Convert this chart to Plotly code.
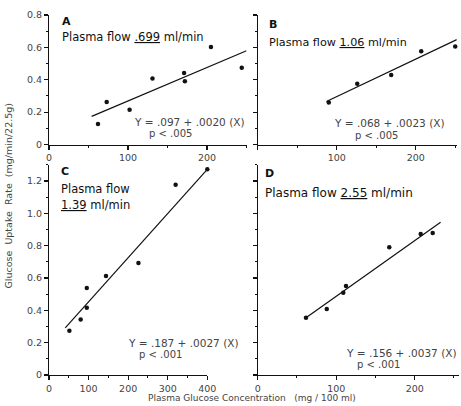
import plotly.graph_objects as go

# ---- data ----
A_x = [62, 73, 102, 131, 171, 172, 205, 244]
A_y = [0.127, 0.263, 0.215, 0.408, 0.441, 0.39, 0.603, 0.474]
A_line_x = [54, 250]
A_line_y = [0.174, 0.579]

B_x = [90, 126, 169, 207, 250]
B_y = [0.26, 0.375, 0.43, 0.576, 0.605]
B_line_x = [87, 252]
B_line_y = [0.266, 0.648]

C_x = [51.5, 80, 95.5, 95.5, 144, 226, 320, 400]
C_y = [0.274, 0.344, 0.538, 0.416, 0.612, 0.693, 1.177, 1.272]
C_line_x = [41, 400]
C_line_y = [0.292, 1.272]

D_x = [61.5, 88, 109, 112.5, 167.6, 207.6, 222.9]
D_y = [0.354, 0.408, 0.509, 0.55, 0.79, 0.872, 0.878]
D_line_x = [61.5, 233]
D_line_y = [0.354, 0.944]

top_yticks = [0, 0.2, 0.4, 0.6, 0.8]
top_ylabels = ["0", "0.2", "0.4", "0.6", "0.8"]
bot_yticks = [0, 0.2, 0.4, 0.6, 0.8, 1.0, 1.2]
bot_ylabels = ["0", "0.2", "0.4", "0.6", "0.8", "1.0", "1.2"]
A_xticks = [0, 100, 200]
B_xticks = [0, 100, 200]
B_xlabels = ["", "100", "200"]
C_xticks = [0, 100, 200, 300, 400]
D_xticks = [0, 100, 200]

flows = [".699", "1.06", "1.39", "2.55"]
equations = ["Y = .097 + .0020 (X)", "Y = .068 + .0023 (X)",
             "Y = .187 + .0027 (X)", "Y = .156 + .0037 (X)"]
pvals = ["p < .005", "p < .005", "p < .001", "p < .001"]

W, H = 461, 406
FONT = "DejaVu Sans"
INK = "#111111"
GREY = "#444444"

fig = go.Figure()

panels = [
    ("x", "y", A_x, A_y, A_line_x, A_line_y),
    ("x2", "y2", B_x, B_y, B_line_x, B_line_y),
    ("x3", "y3", C_x, C_y, C_line_x, C_line_y),
    ("x4", "y4", D_x, D_y, D_line_x, D_line_y),
]
for xa, ya, px, py, lx, ly in panels:
    fig.add_trace(go.Scatter(x=lx, y=ly, mode="lines", xaxis=xa, yaxis=ya,
                             line=dict(color=INK, width=1.2), showlegend=False,
                             hoverinfo="skip"))
    fig.add_trace(go.Scatter(x=px, y=py, mode="markers", xaxis=xa, yaxis=ya,
                             marker=dict(color=INK, size=4.5), showlegend=False,
                             cliponaxis=False))

def px2fx(p):
    return p / W

def py2fy(p):
    return 1 - p / H

tickfont = dict(family=FONT, size=9.5, color=GREY)

def xaxis(domain, rng, tickvals, ticktext, anchor, minor_dt=50):
    return dict(domain=domain, range=rng, anchor=anchor, showgrid=False, zeroline=False,
                automargin=False,
                showline=True, linecolor=INK, linewidth=1.1,
                ticks="outside", ticklen=4, tickwidth=1.1, tickcolor=INK,
                tickvals=tickvals, ticktext=ticktext, tickfont=tickfont,
                minor=dict(ticks="outside", ticklen=2, dtick=minor_dt, tick0=0,
                           tickcolor=INK, tickwidth=1),
                fixedrange=True)

def yaxis(domain, rng, tickvals, ticktext, anchor, show):
    return dict(domain=domain, range=rng, anchor=anchor, showgrid=False, zeroline=False,
                automargin=False,
                showline=True, linecolor=INK, linewidth=1.1,
                ticks="outside", ticklen=4, tickwidth=1.1, tickcolor=INK,
                tickvals=tickvals, ticktext=ticktext, tickfont=tickfont,
                showticklabels=show,
                minor=dict(ticks="outside", ticklen=2, dtick=0.1, tick0=0,
                           tickcolor=INK, tickwidth=1),
                fixedrange=True)

top_dom = [py2fy(144.5), py2fy(15)]
bot_dom = [py2fy(375), py2fy(164.8)]

fig.update_layout(
    width=W, height=H,
    margin=dict(l=0, r=0, t=0, b=0, pad=0, autoexpand=False),
    paper_bgcolor="white", plot_bgcolor="white",
    xaxis=xaxis([px2fx(49), px2fx(49 + 250 * 0.79)], [0, 250], A_xticks,
                [str(v) for v in A_xticks], "y"),
    yaxis=yaxis(top_dom, [0, 0.8], top_yticks, top_ylabels, "x", True),
    xaxis2=xaxis([px2fx(257.7), px2fx(257.7 + 252 * 0.79)], [0, 252], B_xticks,
                 B_xlabels, "y2"),
    yaxis2=yaxis(top_dom, [0, 0.8], top_yticks, top_ylabels, "x2", False),
    xaxis3=xaxis([px2fx(49), px2fx(207.3)], [0, 400], C_xticks,
                 [str(v) for v in C_xticks], "y3"),
    yaxis3=yaxis(bot_dom, [0, 1.3], bot_yticks, bot_ylabels, "x3", True),
    xaxis4=xaxis([px2fx(257.7), px2fx(257.7 + 257 * 0.785)], [0, 257], D_xticks,
                 [str(v) for v in D_xticks], "y4"),
    yaxis4=yaxis(bot_dom, [0, 1.3], bot_yticks, bot_ylabels, "x4", False),
)

ann = []
def add(text, x, y, size, color=INK, xanchor="left", angle=0):
    ann.append(dict(text=text, x=x, y=y, xref="paper", yref="paper", showarrow=False,
                    xanchor=xanchor, yanchor="middle", textangle=angle, borderpad=0,
                    font=dict(family=FONT, size=size, color=color)))

# panel letters
add("<b>A</b>", px2fx(61), py2fy(21.5), 11)
add("<b>B</b>", px2fx(268), py2fy(24), 11)
add("<b>C</b>", px2fx(60), py2fy(172), 11)
add("<b>D</b>", px2fx(264), py2fy(173), 11)

# plasma flow labels
add("Plasma flow <u>%s</u> ml/min" % flows[0], px2fx(61), py2fy(37.5), 11.5)
add("Plasma flow <u>%s</u> ml/min" % flows[1], px2fx(268), py2fy(42.5), 11.2)
add("Plasma flow", px2fx(60), py2fy(189.5), 11.5)
add("<u>%s</u> ml/min" % flows[2], px2fx(60), py2fy(205), 11.5)
add("Plasma flow <u>%s</u> ml/min" % flows[3], px2fx(264), py2fy(193), 12)

# equations
eq_pos = [(189.5, 121.7), (389, 122.7), (183.7, 342.7), (401.7, 353.3)]
p_pos = [(170.5, 134), (376, 135.7), (160, 354), (378, 364)]
for i in range(4):
    add(equations[i], px2fx(eq_pos[i][0]), py2fy(eq_pos[i][1]), 10.5, GREY, "center")
    add(pvals[i], px2fx(p_pos[i][0]), py2fy(p_pos[i][1]), 10, GREY, "center")

# axis titles
add("Glucose  Uptake  Rate  (mg/min/22.5g)", px2fx(7.5), py2fy(196), 9.5, GREY,
    "center", -90)
add("Plasma Glucose Concentration   (mg / 100 ml)", px2fx(252), py2fy(398), 9, GREY,
    "center")

fig.update_layout(annotations=ann)
fig.write_html("out.html",
               config={"displayModeBar": False, "staticPlot": True},
               post_script="document.body.style.margin='0';"
                           "document.body.style.overflow='hidden';")
